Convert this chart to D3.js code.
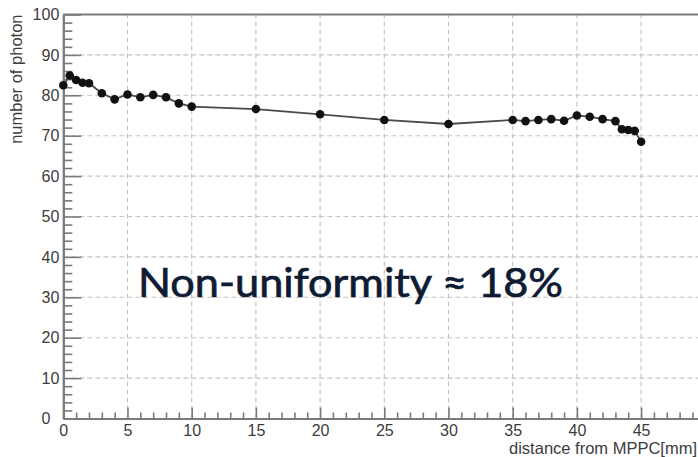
<!DOCTYPE html>
<html>
<head>
<meta charset="utf-8">
<script src="https://cdn.jsdelivr.net/npm/d3@7"></script>
<style>
  html, body { margin: 0; padding: 0; background: #fff; }
  svg { display: block; }
</style>
</head>
<body>
<svg id="chart" width="698" height="457"></svg>
<script>
// Light yield measured along the fibre, versus distance from the MPPC
const distance = [0, 0.5, 1, 1.5, 2, 3, 4, 5, 6, 7, 8, 9, 10, 15, 20, 25, 30,
                  35, 36, 37, 38, 39, 40, 41, 42, 43, 43.5, 44, 44.5, 45];
const photons  = [82.5, 84.9, 83.8, 83.1, 83.0, 80.5, 79.0, 80.2, 79.5, 80.1, 79.5, 78.0, 77.2,
                  76.6, 75.3, 73.9, 72.9,
                  73.9, 73.6, 73.9, 74.1, 73.7, 75.0, 74.7, 74.1, 73.6, 71.6, 71.4, 71.2, 68.5];

const xMajor = [0, 5, 10, 15, 20, 25, 30, 35, 40, 45];
const yMajor = [0, 10, 20, 30, 40, 50, 60, 70, 80, 90, 100];
const xTitle = "distance from MPPC[mm]";
const yTitle = "number of photon";
const note = "Non-uniformity \u2248 18%";

const svg = d3.select("#chart");
const W = 698, H = 457;
svg.append("rect").attr("width", W).attr("height", H).attr("fill", "#fff");

const x = d3.scaleLinear().domain([0, 50]).range([63.3, 705.3]);
const y = d3.scaleLinear().domain([0, 100]).range([418.5, 14.5]);

const axisColor = "#7a7a7a";
const labelFont = "'Liberation Sans', Arial, Helvetica, sans-serif";

// dashed grid
const grid = svg.append("g");
grid.selectAll("line.gx").data(xMajor.filter(d => d > 0).concat([50]))
  .join("line")
  .attr("x1", d => x(d)).attr("x2", d => x(d))
  .attr("y1", y(0)).attr("y2", y(100))
  .attr("stroke", "#c4c4c4").attr("stroke-width", 1.1)
  .attr("stroke-dasharray", "5,3");
grid.selectAll("line.gy").data(yMajor.filter(d => d > 0 && d < 100))
  .join("line")
  .attr("x1", x(0)).attr("x2", x(50))
  .attr("y1", d => y(d)).attr("y2", d => y(d))
  .attr("stroke", "#c4c4c4").attr("stroke-width", 1.1)
  .attr("stroke-dasharray", "5,3");

// top frame edge
svg.append("line")
  .attr("x1", x(0)).attr("x2", x(50))
  .attr("y1", y(100)).attr("y2", y(100))
  .attr("stroke", axisColor).attr("stroke-width", 2);

// y axis: ticks drawn inward
const yMinorTicks = d3.range(0, 101, 2).filter(v => v % 10 !== 0);
const yMinorAxis = d3.axisLeft(y).tickValues(yMinorTicks).tickSize(-9).tickSizeOuter(0).tickFormat("");
const yAxis = d3.axisLeft(y).tickValues(yMajor).tickSize(-18).tickSizeOuter(0).tickPadding(4)
  .tickFormat(d3.format("d"));

const gyMinor = svg.append("g").attr("transform", `translate(${x(0)},0)`).call(yMinorAxis);
const gy = svg.append("g").attr("transform", `translate(${x(0)},0)`).call(yAxis);

// x axis: ticks drawn inward
const xMinorTicks = d3.range(0, 51, 1).filter(v => v % 5 !== 0);
const xMinorAxis = d3.axisBottom(x).tickValues(xMinorTicks).tickSize(-6).tickSizeOuter(0).tickFormat("");
const xAxis = d3.axisBottom(x).tickValues(xMajor.concat([50])).tickSize(-11).tickSizeOuter(0).tickPadding(6)
  .tickFormat(d => d === 50 ? "" : d3.format("d")(d));

const gxMinor = svg.append("g").attr("transform", `translate(0,${y(0)})`).call(xMinorAxis);
const gx = svg.append("g").attr("transform", `translate(0,${y(0)})`).call(xAxis);

[gy, gyMinor, gx, gxMinor].forEach(g => {
  g.select(".domain").attr("stroke", axisColor).attr("stroke-width", 2);
  g.selectAll(".tick line").attr("stroke", axisColor).attr("stroke-width", 1.6);
  g.selectAll(".tick text")
    .attr("fill", "#3c3c3c")
    .style("font-family", labelFont)
    .style("font-size", "16px");
});
// the zero label on the vertical axis sits a little further left
gy.selectAll(".tick text").filter(d => d === 0).attr("x", -13).attr("dy", "0.3em");

// axis titles
svg.append("text")
  .attr("x", 697).attr("y", 453.5)
  .attr("text-anchor", "end")
  .attr("fill", "#3c3c3c")
  .style("font-family", labelFont).style("font-size", "16.5px")
  .text(xTitle);

svg.append("text")
  .attr("transform", `translate(22,${y(100)}) rotate(-90)`)
  .attr("text-anchor", "end")
  .attr("fill", "#3c3c3c")
  .style("font-family", labelFont).style("font-size", "16.5px")
  .text(yTitle);

// measurement curve
const line = d3.line().x((d, i) => x(distance[i])).y(d => y(d));
svg.append("path")
  .datum(photons)
  .attr("d", line)
  .attr("fill", "none")
  .attr("stroke", "#4a4a4a")
  .attr("stroke-width", 1.8);

svg.append("g").selectAll("circle")
  .data(photons)
  .join("circle")
  .attr("cx", (d, i) => x(distance[i]))
  .attr("cy", d => y(d))
  .attr("r", 4.3)
  .attr("fill", "#111");

// annotation
svg.append("text")
  .attr("x", 138).attr("y", 297)
  .attr("fill", "#0f1a33")
  .attr("stroke", "#0f1a33").attr("stroke-width", 0.7)
  .attr("textLength", 425).attr("lengthAdjust", "spacingAndGlyphs")
  .style("font-family", "Lato, 'Open Sans', sans-serif")
  .style("font-size", "40px")
  .text(note);
</script>
</body>
</html>
